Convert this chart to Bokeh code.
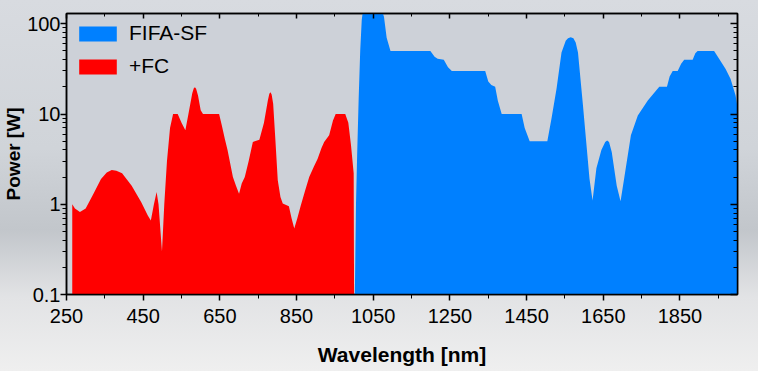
from bokeh.plotting import figure
from bokeh.models import (Range1d, FixedTicker, LinearAxis, LogAxis, Legend,
                          LegendItem, CustomJSTickFormatter)
from bokeh.embed import file_html
from bokeh.resources import INLINE

# +FC (red) spectrum
fc_wl = [265, 265, 272, 285, 300, 320, 340, 355, 368, 380, 395, 420, 445, 462, 470, 478,
         485, 490, 499, 505, 512, 520, 528, 540, 550, 560, 568, 578, 582, 585, 588, 593,
         600, 606, 648, 655, 663, 670, 684, 692, 700, 707, 715, 725, 736, 753,
         765, 775, 779, 782, 785, 789, 795, 801, 808, 814, 830, 837, 844, 852, 861, 872,
         883, 895, 905, 915, 922, 935, 945, 952, 977, 985, 992, 999, 1000]
fc_power = [0.1, 1.0, 0.9, 0.82, 0.9, 1.3, 1.9, 2.25, 2.4, 2.35, 2.2, 1.6, 1.05, 0.75, 0.66, 1.0,
            1.37, 1.0, 0.3, 1.0, 3.0, 7.0, 10, 10, 8, 6.6, 10, 17, 19.3, 19.8, 19.0, 16,
            11, 10, 10, 7.5, 5.3, 4.0, 2.0, 1.6, 1.31, 1.7, 2.0, 3.0, 4.9, 5.2,
            8, 14, 16.8, 17.4, 16.5, 13, 5, 1.84, 1.2, 1.02, 0.95, 0.7, 0.54, 0.7, 0.97, 1.4,
            2.0, 2.6, 3.2, 4.2, 4.9, 5.8, 8.5, 10, 10, 8, 4.5, 2.2, 0.1]

# FIFA-SF (blue) spectrum
sf_wl = [1002, 1005, 1008, 1012, 1016, 1020, 1024, 1070, 1078, 1085, 1095, 1199,
         1210, 1218, 1234, 1245, 1255, 1342, 1350, 1358, 1368, 1375, 1385, 1437,
         1445, 1458, 1504, 1515, 1528, 1541, 1552, 1558, 1565, 1572, 1578, 1584, 1597, 1614,
         1622, 1632, 1645, 1655, 1660, 1665, 1672, 1685, 1695, 1705, 1722, 1740, 1766, 1796,
         1816, 1823, 1831, 1844, 1853, 1861, 1883, 1890, 1896, 1939, 1952, 1969,
         1982, 1995, 2000]
sf_power = [0.1, 1.0, 3.5, 15, 50, 110, 150, 150, 120, 70, 50, 50,
            43, 41, 40, 33, 30, 30, 23, 21, 20, 14, 10, 10,
            7, 5, 5, 9, 19, 48, 65, 69, 71, 69, 62, 48, 12.4, 1.92,
            1.1, 2.5, 4, 4.9, 5.1, 4.9, 3.8, 1.6, 1.08, 2, 5.8, 9.6, 14.1, 20,
            20, 26, 30, 30, 36, 40, 40, 47, 50, 50, 41, 31.5,
            24.5, 16, 12]

x_ticks = [250, 450, 650, 850, 1050, 1250, 1450, 1650, 1850]
x_minor = [350, 550, 750, 950, 1150, 1350, 1550, 1750, 1950]
y_ticks = [0.1, 1, 10, 100]
y_minor = [0.2, 0.3, 0.4, 0.5, 0.6, 0.7, 0.8, 0.9,
           2, 3, 4, 5, 6, 7, 8, 9,
           20, 30, 40, 50, 60, 70, 80, 90]

FONT = "Liberation Sans"

p = figure(width=758, height=371, x_range=Range1d(250, 2000),
           y_range=Range1d(0.1, 130), y_axis_type="log",
           output_backend="svg", toolbar_location=None,
           min_border_left=63, min_border_right=21, min_border_top=13,
           min_border_bottom=77)

p.background_fill_color = "#cdd1d8"
p.border_fill_alpha = 0
p.outline_line_color = "black"
p.outline_line_width = 1.5
p.xgrid.visible = False
p.ygrid.visible = False

red = p.varea(x=fc_wl, y1=0.1, y2=fc_power, fill_color="#ff0000")
blue = p.varea(x=sf_wl, y1=0.1, y2=sf_power, fill_color="#0080ff")

xt = FixedTicker(ticks=x_ticks, minor_ticks=x_minor)
yt = FixedTicker(ticks=y_ticks, minor_ticks=y_minor)
yfmt = CustomJSTickFormatter(code="return tick < 1 ? tick.toFixed(1) : tick.toFixed(0);")
blank = CustomJSTickFormatter(code="return '';")

for ax in p.xaxis:
    ax.ticker = xt
    ax.axis_label = "Wavelength [nm]"
    ax.axis_label_text_font = FONT
    ax.axis_label_text_font_style = "bold"
    ax.axis_label_text_font_size = "21px"
    ax.axis_label_text_color = "black"
    ax.axis_label_standoff = 17
    ax.major_label_text_font = FONT
    ax.major_label_text_font_size = "20px"
    ax.major_label_text_color = "black"
    ax.major_label_standoff = 8
    ax.major_tick_out = 6
    ax.major_tick_in = 0
    ax.minor_tick_out = 4
    ax.minor_tick_in = 0
    ax.axis_line_width = 1.5
    ax.major_tick_line_width = 1.5

for ax in p.yaxis:
    ax.ticker = yt
    ax.formatter = yfmt
    ax.axis_label = "Power [W]"
    ax.axis_label_text_font = FONT
    ax.axis_label_text_font_style = "bold"
    ax.axis_label_text_font_size = "19px"
    ax.axis_label_text_color = "black"
    ax.axis_label_standoff = 0
    ax.major_label_text_font = FONT
    ax.major_label_text_font_size = "20px"
    ax.major_label_text_color = "black"
    ax.major_label_standoff = 0
    ax.major_tick_out = 6
    ax.major_tick_in = 0
    ax.minor_tick_out = 4
    ax.minor_tick_in = 0
    ax.axis_line_width = 1.5
    ax.major_tick_line_width = 1.5

top = LinearAxis(ticker=xt, formatter=blank, major_label_standoff=0,
                 major_tick_in=5, major_tick_out=0, minor_tick_in=3, minor_tick_out=0,
                 axis_line_width=1.5, major_tick_line_width=1.5)
right = LogAxis(ticker=yt, formatter=blank, major_label_standoff=0,
                major_tick_in=7, major_tick_out=0, minor_tick_in=4, minor_tick_out=0,
                axis_line_width=1.5, major_tick_line_width=1.5)
p.add_layout(top, "above")
p.add_layout(right, "right")

legend = Legend(items=[LegendItem(label="FIFA-SF", renderers=[blue]),
                       LegendItem(label="+FC", renderers=[red])],
                location="top_left", background_fill_alpha=0, border_line_alpha=0,
                glyph_width=47, glyph_height=19, label_height=19,
                label_text_font=FONT, label_text_font_size="21px",
                label_text_color="black",
                spacing=9, padding=8, margin=0, label_standoff=8)
p.add_layout(legend)

html = file_html(p, INLINE)
css = ("<style>html{height:100%;background:linear-gradient(to bottom,"
       "#d8dbe0 0%,#d0d4d9 40%,#c2c6cb 62%,#e2e3e5 80%,#efefef 100%);}"
       "body{background:transparent;}</style>")
html = html.replace("<head>", "<head>" + css, 1)
open("out.html", "w").write(html)
